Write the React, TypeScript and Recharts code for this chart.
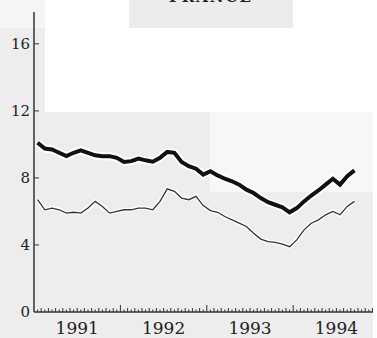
import React from 'react';
import { LineChart, Line, XAxis, YAxis } from 'recharts';

// Monthly observations, Jan 1991 – Sep 1994
const monthsFrom1991 = Array.from({ length: 45 }, (_, i) => i);
const thickSeries = [
  10.1, 9.75, 9.7, 9.5, 9.3, 9.5, 9.65, 9.5, 9.35, 9.3, 9.3, 9.2,
  8.95, 9.0, 9.15, 9.05, 8.97, 9.2, 9.55, 9.5, 8.95, 8.7, 8.55, 8.2,
  8.4, 8.15, 7.95, 7.8, 7.6, 7.3, 7.1, 6.8, 6.55, 6.4, 6.25, 5.95,
  6.2, 6.6, 6.95, 7.25, 7.6, 7.95, 7.6, 8.1, 8.45,
];
const thinSeries = [
  6.7, 6.1, 6.2, 6.1, 5.9, 5.95, 5.9, 6.2, 6.6, 6.3, 5.9, 6.0,
  6.1, 6.1, 6.2, 6.2, 6.1, 6.6, 7.35, 7.2, 6.8, 6.7, 6.9, 6.35,
  6.05, 5.95, 5.7, 5.5, 5.3, 5.1, 4.7, 4.35, 4.2, 4.15, 4.05, 3.9,
  4.3, 4.9, 5.3, 5.5, 5.8, 6.0, 5.8, 6.3, 6.6,
];
const yearLabels = ['1991', '1992', '1993', '1994'];
const yTicks = [0, 4, 8, 12, 16];
const title = 'FRANCE';

const data = monthsFrom1991.map((m, i) => ({
  t: m + 0.5,
  thick: thickSeries[i],
  thin: thinSeries[i],
}));

const xMax = 47.08;
const xTicks: number[] = [];
for (let v = 0; v <= 47; v += 0.5) xTicks.push(v);
const yearMid = yearLabels.map((_, i) => i * 12 + 6);

const XTick = (props: any) => {
  const { x, y, payload } = props;
  const v = payload.value as number;
  const isYear = v % 12 === 0 && v > 0;
  const isMonth = Number.isInteger(v);
  const h = isYear ? 7 : isMonth ? 4 : 2.5;
  const li = yearMid.indexOf(v);
  return (
    <g>
      {v > 0 && <line x1={x} x2={x} y1={y} y2={y - h} stroke="#333" strokeWidth={1} />}
      {li >= 0 && (
        <text x={x} y={y + 22} textAnchor="middle" fontFamily="DejaVu Serif" fontSize={17} fill="#222">
          {yearLabels[li]}
        </text>
      )}
    </g>
  );
};

const YTick = (props: any) => {
  const { x, y, payload } = props;
  return (
    <g>
      {payload.value > 0 && (
        <line x1={x + 4} x2={x + 9} y1={y} y2={y} stroke="#333" strokeWidth={1} />
      )}
      <text x={x} y={y + 5} textAnchor="end" fontFamily="DejaVu Serif" fontSize={15} fill="#222">
        {payload.value}
      </text>
    </g>
  );
};

const bg = (l: number, t: number, w: number, h: number, c: string) => (
  <div style={{ position: 'absolute', left: l, top: t, width: w, height: h, background: c }} />
);

export default function App() {
  return (
    <div style={{ position: 'absolute', left: 0, top: 0, width: 377, height: 338, overflow: 'hidden', background: '#ededed' }}>
      {bg(0, 0, 45, 28, '#f5f5f5')}
      {bg(45, 0, 332, 112, '#ffffff')}
      {bg(129, 0, 164, 28, '#ececec')}
      {bg(210, 112, 163, 80, '#f7f7f7')}
      {bg(373, 0, 4, 338, '#ffffff')}
      <div
        style={{
          position: 'absolute', left: 129, top: -12, width: 164, textAlign: 'center',
          fontFamily: 'DejaVu Serif', fontSize: 15, fontWeight: 'bold', letterSpacing: 2, color: '#222',
        }}
      >
        {title}
      </div>
      <div style={{ position: 'absolute', left: 0, top: 0 }}>
        <LineChart width={377} height={338} data={data} margin={{ top: 12, right: 4, bottom: 0, left: 0 }}>
          <XAxis
            dataKey="t"
            type="number"
            domain={[0, xMax]}
            ticks={xTicks}
            interval={0}
            tickSize={0}
            tickMargin={0}
            height={26}
            tick={<XTick />}
            axisLine={{ stroke: '#333', strokeWidth: 1.5 }}
          />
          <YAxis
            type="number"
            domain={[0, 17.9]}
            ticks={yTicks}
            interval={0}
            width={34}
            tickSize={0}
            tickMargin={4}
            tick={<YTick />}
            axisLine={{ stroke: '#333', strokeWidth: 1.5 }}
          />
          <Line dataKey="thick" stroke="#ffffff" strokeWidth={8} dot={false} isAnimationActive={false} />
          <Line dataKey="thin" stroke="#ffffff" strokeWidth={4} dot={false} isAnimationActive={false} />
          <Line dataKey="thick" stroke="#111111" strokeWidth={4} dot={false} isAnimationActive={false} />
          <Line dataKey="thin" stroke="#333333" strokeWidth={1.3} dot={false} isAnimationActive={false} />
        </LineChart>
      </div>
    </div>
  );
}
